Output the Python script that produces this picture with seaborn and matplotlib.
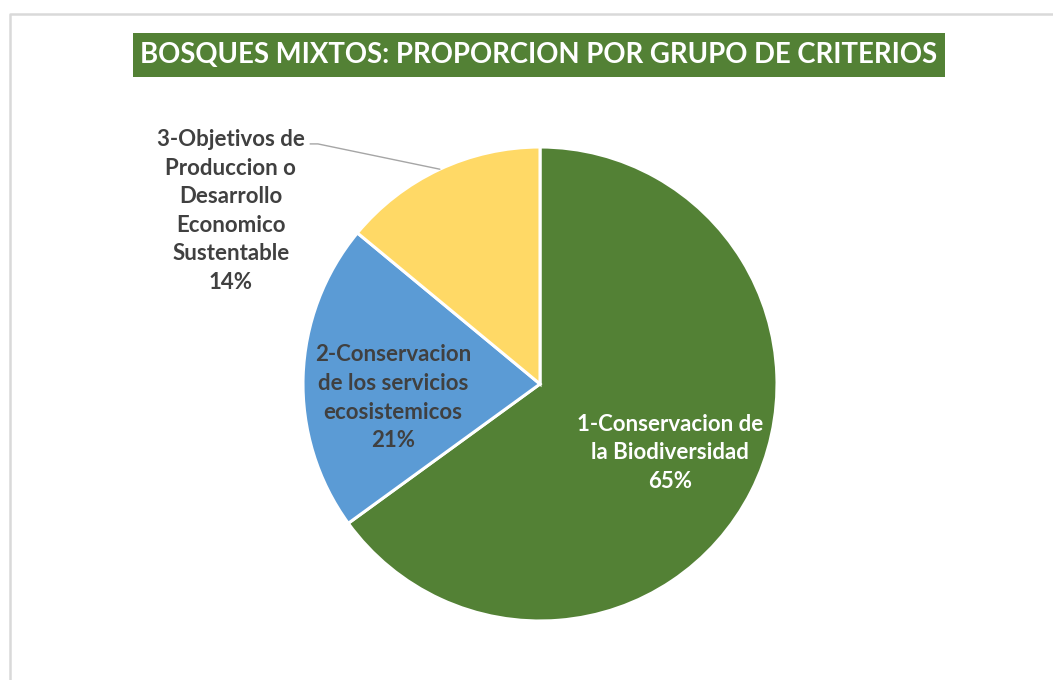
import numpy as np
import matplotlib
matplotlib.use("Agg")
import matplotlib.pyplot as plt
from matplotlib.patches import Rectangle
from matplotlib.lines import Line2D
import seaborn as sns

# datos del grafico
categorias = [
    "1-Conservacion de\nla Biodiversidad",
    "2-Conservacion\nde los servicios\necosistemicos",
    "3-Objetivos de\nProduccion o\nDesarrollo\nEconomico\nSustentable",
]
valores = [65, 21, 14]
colores = ["#538135", "#5B9BD5", "#FFD966"]
titulo = "BOSQUES MIXTOS: PROPORCION POR GRUPO DE CRITERIOS"

sns.set_theme(style="white")
plt.rcParams['font.family'] = ['Lato', 'DejaVu Sans']

W, H = 1053, 680
fig = plt.figure(figsize=(W / 100, H / 100), dpi=100)
fig.patch.set_facecolor("white")

# borde del area del grafico
fig.add_artist(Line2D([10 / W, 10 / W, 1.0], [0.0, 1 - 14 / H, 1 - 14 / H],
                      transform=fig.transFigure, color="#D9D9D9", lw=1.8))

# eje que ocupa toda la figura, 1 unidad = radio del pastel
cx, cy, r = 540, 384, 237
ax = fig.add_axes([0, 0, 1, 1])
wedges, _ = ax.pie(valores, colors=colores, startangle=90, counterclock=False,
                   radius=1.0, wedgeprops=dict(edgecolor="white", linewidth=2.2))
ax.set_xlim(-cx / r, (W - cx) / r)
ax.set_ylim(-(H - cy) / r, cy / r)
ax.set_aspect("equal")
ax.axis("off")

etiquetas = [f"{c}\n{v}%" for c, v in zip(categorias, valores)]
fs = 16
ls = 1.45
ax.text(0.55, -0.29, etiquetas[0], ha="center", va="center", fontsize=fs,
        fontweight="bold", color="white", linespacing=ls)
ax.text(-0.62, -0.058, etiquetas[1], ha="center", va="center", fontsize=fs,
        fontweight="bold", color="#404040", linespacing=ls)
ax.text(-1.305, 0.73, etiquetas[2], ha="center", va="center", fontsize=fs,
        fontweight="bold", color="#404040", linespacing=ls)

# linea guia de la etiqueta exterior
ang = np.deg2rad(115)
ax.plot([-0.97, -0.937, np.cos(ang)], [1.013, 1.013, np.sin(ang)],
        color="#A6A6A6", lw=1.0, clip_on=False)

# titulo con fondo verde
fig.add_artist(Rectangle((133 / W, 1 - 77 / H), 812 / W, 44 / H,
                         transform=fig.transFigure, facecolor="#538135",
                         edgecolor="none"))
fig.text(539 / W, 1 - 55 / H, titulo, ha="center", va="center", fontsize=19.8,
         fontweight="bold", color="white")

fig.savefig("out.png", dpi=100, facecolor="white")
